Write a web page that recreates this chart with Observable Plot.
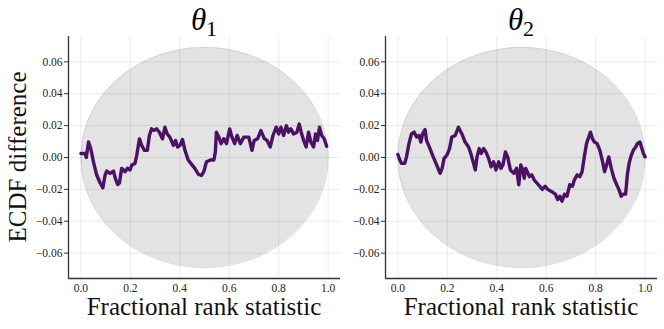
<!DOCTYPE html>
<html>
<head>
<meta charset="utf-8">
<script src="https://cdn.jsdelivr.net/npm/d3@7"></script>
<script src="https://cdn.jsdelivr.net/npm/@observablehq/plot@0.6"></script>
<style>
  html, body { margin: 0; padding: 0; background: #fff; }
  #wrap { position: relative; width: 664px; height: 329px; overflow: hidden; font-family: "Liberation Serif", "Times New Roman", Times, "DejaVu Serif", serif; }
  .panel { position: absolute; top: 0; }
  .title { position: absolute; top: 4px; font-size: 31px; line-height: 31px; color: #000; transform: translateX(-50%); white-space: nowrap; }
  .title i { font-style: italic; }
  .title sub { font-size: 22px; vertical-align: -6px; line-height: 0; }
  .xlabel { position: absolute; top: 294px; font-size: 25px; line-height: 25px; color: #111; transform: translateX(-50%); white-space: nowrap; }
  .ylabel { position: absolute; left: 17px; top: 157px; font-size: 25px; line-height: 25px; color: #111; transform: translate(-50%, -50%) rotate(-90deg); white-space: nowrap; }
</style>
</head>
<body>
<div id="wrap"></div>
<script>
// ---- data ----
const titles = ["θ", "θ"];
const subscripts = ["1", "2"];
const xLabel = "Fractional rank statistic";
const yLabel = "ECDF difference";
const xTicks = [0, 0.2, 0.4, 0.6, 0.8, 1.0];
const yTicks = [-0.06, -0.04, -0.02, 0, 0.02, 0.04, 0.06];

// simultaneous confidence band (upper edge; lower edge is its mirror)
const bandX = [0, 0.005, 0.01, 0.02, 0.03, 0.045, 0.06, 0.08, 0.10, 0.125, 0.15, 0.18, 0.21, 0.24, 0.27, 0.30, 0.33, 0.36, 0.39, 0.42, 0.45, 0.48,
               0.52, 0.55, 0.58, 0.61, 0.64, 0.67, 0.70, 0.73, 0.76, 0.79, 0.82, 0.85, 0.875, 0.90, 0.92, 0.94, 0.955, 0.97, 0.98, 0.99, 0.995, 1.0];
const bandHi = [0, 0.0097, 0.0137, 0.0193, 0.0235, 0.0286, 0.0328, 0.0374, 0.0414, 0.0456, 0.0493, 0.0530, 0.0562, 0.0589, 0.0613, 0.0632, 0.0649, 0.0662, 0.0673, 0.0681, 0.0687, 0.0690,
                0.0690, 0.0687, 0.0681, 0.0673, 0.0662, 0.0649, 0.0632, 0.0613, 0.0589, 0.0562, 0.0530, 0.0493, 0.0456, 0.0414, 0.0374, 0.0328, 0.0286, 0.0235, 0.0193, 0.0137, 0.0097, 0];

// theta_1 ECDF difference
const theta1X = [0.000, 0.017, 0.022, 0.031, 0.040, 0.051, 0.064, 0.078, 0.089, 0.098, 0.105, 0.118, 0.132, 0.139, 0.149, 0.156, 0.165, 0.179, 0.188, 0.199,
  0.206, 0.219, 0.226, 0.237, 0.246, 0.257, 0.269, 0.277, 0.286, 0.296, 0.306, 0.317, 0.330, 0.340, 0.349, 0.360, 0.374, 0.383, 0.391, 0.401,
  0.411, 0.421, 0.434, 0.448, 0.461, 0.475, 0.488, 0.497, 0.508, 0.524, 0.538, 0.544, 0.548, 0.558, 0.567, 0.578, 0.589, 0.602, 0.611, 0.622,
  0.632, 0.645, 0.659, 0.679, 0.692, 0.701, 0.715, 0.728, 0.742, 0.753, 0.766, 0.777, 0.790, 0.800, 0.809, 0.820, 0.831, 0.840, 0.849, 0.860,
  0.874, 0.883, 0.891, 0.901, 0.911, 0.921, 0.930, 0.941, 0.949, 0.957, 0.965, 0.974, 0.984, 0.994];
const theta1Y = [0.0025, 0.0025, 0.0000, 0.0097, 0.0056, -0.0027, -0.0110, -0.0160, -0.0190, -0.0110, -0.0085, -0.0100, -0.0085, -0.0130, -0.0170, -0.0160, -0.0068, -0.0089, -0.0068, -0.0078,
  -0.0047, -0.0037, 0.0014, 0.0117, 0.0076, 0.0045, 0.0045, 0.0138, 0.0180, 0.0170, 0.0180, 0.0160, 0.0117, 0.0190, 0.0148, 0.0128, 0.0076, 0.0107, 0.0066, 0.0076,
  0.0113, 0.0045, -0.0016, -0.0043, -0.0068, -0.0105, -0.0113, -0.0089, -0.0027, -0.0016, -0.0016, 0.0035, 0.0159, 0.0128, 0.0087, 0.0118, 0.0087, 0.0179, 0.0128, 0.0087,
  0.0138, 0.0087, 0.0128, 0.0128, 0.0045, 0.0107, 0.0118, 0.0169, 0.0118, 0.0107, 0.0066, 0.0138, 0.0190, 0.0148, 0.0190, 0.0138, 0.0200, 0.0159, 0.0180, 0.0148,
  0.0159, 0.0210, 0.0159, 0.0107, 0.0066, 0.0159, 0.0097, 0.0066, 0.0148, 0.0107, 0.0190, 0.0138, 0.0118, 0.0070];

// theta_2 ECDF difference
const theta2X = [0.000, 0.008, 0.015, 0.028, 0.035, 0.045, 0.055, 0.066, 0.076, 0.086, 0.093, 0.100, 0.110, 0.116, 0.130, 0.143, 0.157, 0.171, 0.179, 0.187,
  0.198, 0.209, 0.218, 0.232, 0.245, 0.259, 0.272, 0.286, 0.295, 0.306, 0.313, 0.320, 0.329, 0.337, 0.347, 0.356, 0.367, 0.377, 0.387, 0.397,
  0.408, 0.417, 0.425, 0.435, 0.444, 0.455, 0.469, 0.480, 0.489, 0.497, 0.505, 0.511, 0.517, 0.526, 0.532, 0.542, 0.551, 0.562, 0.573, 0.584,
  0.596, 0.606, 0.617, 0.628, 0.637, 0.646, 0.655, 0.664, 0.674, 0.684, 0.695, 0.706, 0.714, 0.725, 0.736, 0.745, 0.755, 0.763, 0.772, 0.779,
  0.787, 0.795, 0.806, 0.817, 0.828, 0.836, 0.844, 0.853, 0.863, 0.874, 0.885, 0.894, 0.903, 0.911, 0.921, 0.928, 0.935, 0.944, 0.952, 0.962,
  0.968, 0.979, 0.985, 0.993, 1.000];
const theta2Y = [0.0019, -0.0016, -0.0037, -0.0037, 0.0004, 0.0087, 0.0148, 0.0159, 0.0128, 0.0138, 0.0097, 0.0148, 0.0175, 0.0107, 0.0056, 0.0004, -0.0047, -0.0099, -0.0068, -0.0006,
  0.0014, 0.0056, 0.0128, 0.0138, 0.0190, 0.0148, 0.0097, 0.0066, 0.0025, -0.0037, -0.0078, 0.0004, 0.0056, 0.0025, 0.0056, 0.0035, -0.0006, -0.0058, -0.0027, -0.0078,
  -0.0027, -0.0068, -0.0047, 0.0035, 0.0004, -0.0078, -0.0099, -0.0068, -0.0171, -0.0047, -0.0078, -0.0130, -0.0068, -0.0099, -0.0120, -0.0109, -0.0140, -0.0160, -0.0180, -0.0200,
  -0.0180, -0.0200, -0.0210, -0.0220, -0.0230, -0.0264, -0.0243, -0.0274, -0.0230, -0.0243, -0.0171, -0.0180, -0.0140, -0.0109, -0.0120, -0.0089, 0.0014, 0.0087, 0.0128, 0.0159,
  0.0118, 0.0097, 0.0087, 0.0045, -0.0027, -0.0089, -0.0047, 0.0004, -0.0068, -0.0130, -0.0171, -0.0200, -0.0243, -0.0230, -0.0230, -0.0109, -0.0037, 0.0014, 0.0045, 0.0066,
  0.0087, 0.0097, 0.0066, 0.0025, 0.0004];

// ---- drawing ----
const xDomain = [-0.05, 1.05];
const yDomain = [-0.0759, 0.0759];
const lineColor = "#4a1164";
const font = '"Liberation Serif", "Times New Roman", Times, "DejaVu Serif", serif';

const band = bandX.map((x, i) => ({x, hi: bandHi[i], lo: -bandHi[i]}));

function panel(xs, ys, opts) {
  const pts = xs.map((x, i) => ({x, y: ys[i]}));
  return Plot.plot({
    width: opts.width,
    height: 300,
    marginLeft: opts.marginLeft,
    marginRight: opts.marginRight,
    marginTop: 36,
    marginBottom: 22,
    style: {fontFamily: font, fontSize: "11.5px", color: "#333", background: "transparent", overflow: "visible"},
    x: {domain: xDomain, ticks: xTicks, tickFormat: d3.format(".1f")},
    y: {domain: yDomain, ticks: yTicks, tickFormat: d3.format(".2f")},
    marks: [
      Plot.areaY(band, {x: "x", y1: "lo", y2: "hi", fill: "#e3e3e3"}),
      Plot.lineY(band, {x: "x", y: "hi", stroke: "#cfcfcf", strokeWidth: 0.8}),
      Plot.lineY(band, {x: "x", y: "lo", stroke: "#cfcfcf", strokeWidth: 0.8}),
      Plot.gridX(xTicks, {stroke: "#000", strokeOpacity: 0.08, strokeWidth: 1}),
      Plot.gridY(yTicks, {stroke: "#000", strokeOpacity: 0.08, strokeWidth: 1}),
      Plot.line(pts, {x: "x", y: "y", stroke: lineColor, strokeWidth: 3.4, strokeLinejoin: "round", strokeLinecap: "round"}),
      Plot.axisX(xTicks, {tickSize: 0, tickPadding: 5, label: null, tickFormat: d3.format(".1f"), fill: "#222", fontFamily: font}),
      Plot.axisY(yTicks, {tickSize: 4, tickPadding: 2, label: null, tickFormat: d3.format(".2f"), fill: "#222", stroke: "#333", fontFamily: font}),
      Plot.ruleX([xDomain[0]], {stroke: "#333", strokeWidth: 1.3}),
      Plot.ruleY([yDomain[0]], {stroke: "#333", strokeWidth: 1.3})
    ]
  });
}

const wrap = document.getElementById("wrap");
const specs = [
  {left: 0, width: 345, marginLeft: 68, marginRight: 5, xs: theta1X, ys: theta1Y, center: 204},
  {left: 340, width: 322, marginLeft: 45, marginRight: 5, xs: theta2X, ys: theta2Y, center: 521}
];
specs.forEach((s, i) => {
  const div = document.createElement("div");
  div.className = "panel";
  div.style.left = s.left + "px";
  div.appendChild(panel(s.xs, s.ys, s));
  wrap.appendChild(div);

  const t = document.createElement("div");
  t.className = "title";
  t.style.left = s.center + "px";
  t.innerHTML = `<i>${titles[i]}</i><sub>${subscripts[i]}</sub>`;
  wrap.appendChild(t);

  const xl = document.createElement("div");
  xl.className = "xlabel";
  xl.style.left = s.center + "px";
  xl.textContent = xLabel;
  wrap.appendChild(xl);
});
const yl = document.createElement("div");
yl.className = "ylabel";
yl.textContent = yLabel;
wrap.appendChild(yl);
</script>
</body>
</html>
